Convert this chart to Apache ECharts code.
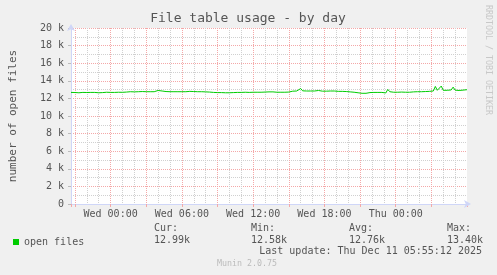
<!DOCTYPE html>
<html><head><meta charset="utf-8">
<script src="https://cdn.jsdelivr.net/npm/echarts@6/dist/echarts.min.js"></script>
<style>html,body{margin:0;padding:0;background:#f0f0f0}#c{width:497px;height:275px}</style>
</head><body><div id="c"></div>
<script>
// ---- data ----
const titleText = 'File table usage - by day';
const yAxisName = 'number of open files';
const seriesName = 'open files';
const dayNames = ['Tue', 'Wed', 'Thu'];   // days covered, hour 0 = Wed 00:00
const startHour = -200 / 60;               // Tue 20:40
const endHour = 30;                        // Thu 06:00
const stepMinutes = 10;
// open files, in thousands, one sample every 10 minutes from Tue 20:40
const openFiles = [
  12.68, 12.68, 12.67, 12.66, 12.64, 12.66,
  12.68, 12.68, 12.67, 12.68, 12.68, 12.69,
  12.68, 12.66, 12.64, 12.72, 12.66, 12.68,
  12.70, 12.70, 12.68, 12.62, 12.68, 12.70,
  12.70, 12.70, 12.69, 12.70, 12.72,
  12.76, 12.76, 12.76, 12.74, 12.78, 12.76,
  12.74, 12.78, 12.76, 12.76, 12.77, 12.76,
  12.76, 12.76, 12.78, 12.90, 13.10, 12.84,
  12.76, 12.78, 12.70, 12.76, 12.74, 12.76,
  12.76, 12.76, 12.75, 12.76, 12.76, 12.76,
  12.78, 12.80, 12.76, 12.78, 12.76, 12.76, 12.74, 12.76,
  12.74, 12.74, 12.72, 12.72, 12.70, 12.68,
  12.66, 12.66, 12.64, 12.66, 12.62, 12.64, 12.66, 12.64, 12.70, 12.66, 12.66, 12.68, 12.66, 12.68,
  12.76, 12.70, 12.70, 12.68, 12.70, 12.70, 12.69, 12.70, 12.70, 12.70, 12.70, 12.72, 12.70, 12.74,
  12.92, 12.74,
  12.70, 12.70, 12.70, 12.70, 12.72, 12.70, 12.70, 12.72, 12.76,
  12.82, 12.82, 12.84, 12.96, 13.12, 12.86, 12.82, 12.84, 12.82,
  12.84, 12.86, 12.84, 12.82, 12.90, 12.84, 12.82, 12.84, 12.82, 12.82, 12.84, 12.82, 12.84, 12.82,
  12.80, 12.80, 12.80, 12.79, 12.78, 12.74, 12.74, 12.72, 12.70,
  12.66, 12.64, 12.60, 12.58, 12.58, 12.58, 12.62, 12.66,
  12.68, 12.68, 12.68, 12.68, 12.66, 12.68, 12.70, 12.62,
  13.02, 12.76,
  12.70, 12.70, 12.70, 12.70, 12.70, 12.72, 12.70, 12.70, 12.70, 12.70, 12.70, 12.74,
  12.76, 12.76, 12.76, 12.76, 12.80, 12.78, 12.76, 12.80, 12.84, 12.84,
  13.36, 12.92, 12.90, 13.40, 12.92,
  12.90, 12.92, 12.90,
  12.96, 13.28, 12.94,
  12.92, 12.90, 12.92, 12.94, 12.96, 12.99
];
const yMax = 20, yStep = 2;
const labelEveryHours = 6, majorGridHours = 3;
const minorGridOffsets = [1, 2];           // hours after each major line
const statHeaders = ['Cur:', 'Min:', 'Avg:', 'Max:'];
const statValues = ['12.99k', '12.58k', '12.76k', '13.40k'];
const lastUpdate = 'Last update: Thu Dec 11 05:55:12 2025';
const footer = 'Munin 2.0.75';
const sideText = 'RRDTOOL / TOBI OETIKER';

// ---- build ----
const pad = n => String(n).padStart(2, '0');
const points = openFiles.map((v, i) => [startHour + i * stepMinutes / 60, v]);
const hourLabel = h => {
  const hh = Math.round(h) + 24;            // hours since Tue 00:00
  return dayNames[Math.floor(hh / 24)] + ' ' + pad(hh % 24) + ':00';
};

const FONT = 'DejaVu Sans Mono';
const AXIS = '#CFD6F8';
const RED = '#f4a8a8';
const GREY = '#d0d0d0';
const TXT = '#555';
const chart = echarts.init(document.getElementById('c'), null, {renderer: 'canvas'});
const statX = [154, 251, 349, 447];
const graphics = [
  {type: 'text', x: 248, y: 19, style: {text: titleText, font: '13px "' + FONT + '"', fill: TXT, align: 'center', verticalAlign: 'middle'}},
  {type: 'text', x: 488, y: 5, rotation: -Math.PI / 2, style: {text: sideText, font: '8.3px "' + FONT + '"', fill: '#c8c8c8', align: 'left', verticalAlign: 'middle'}},
  {type: 'text', x: 482, y: 251, style: {text: lastUpdate, font: '10px "' + FONT + '"', fill: TXT, align: 'right', verticalAlign: 'middle'}},
  {type: 'text', x: 247, y: 264, style: {text: footer, font: '8.3px "' + FONT + '"', fill: '#bbb', align: 'center', verticalAlign: 'middle'}}
];
statHeaders.forEach((h, k) => {
  graphics.push({type: 'text', x: statX[k], y: 228, style: {text: h, font: '10px "' + FONT + '"', fill: TXT, align: 'left', verticalAlign: 'middle'}});
  graphics.push({type: 'text', x: statX[k], y: 240, style: {text: statValues[k], font: '10px "' + FONT + '"', fill: TXT, align: 'left', verticalAlign: 'middle'}});
});

// x axes sharing the plot; "shift" moves the tick phase so ticks land at (multiple of step) + shift hours
const hiddenX = (step, shift, extra) => Object.assign({
  type: 'value', min: startHour - shift, max: endHour - shift, minInterval: step, maxInterval: step,
  splitNumber: Math.round((endHour - startHour) / step), position: 'bottom',
  axisLine: {show: false, onZero: false}, axisTick: {show: false}, axisLabel: {show: false}, splitLine: {show: false}
}, extra);

const xAxes = [
  hiddenX(labelEveryHours, 0, {
    axisLine: {show: true, onZero: false, lineStyle: {color: AXIS, width: 1}, symbol: ['none', 'arrow'], symbolSize: [6, 7], symbolOffset: [0, 4]},
    axisLabel: {show: true, showMinLabel: false, showMaxLabel: false, formatter: hourLabel,
                fontFamily: FONT, fontSize: 10, color: TXT, margin: 5}
  }),
  hiddenX(majorGridHours, 0, {
    axisTick: {show: true, length: 3, lineStyle: {color: RED}},
    splitLine: {show: true, showMinLine: false, showMaxLine: false, lineStyle: {color: RED, type: [1, 1], width: 1}}
  })
];
minorGridOffsets.forEach(off => xAxes.push(hiddenX(majorGridHours, off, {
  splitLine: {show: true, showMinLine: false, showMaxLine: false, lineStyle: {color: GREY, type: [1, 1], width: 1}}
})));

chart.setOption({
  animation: false,
  backgroundColor: '#f0f0f0',
  textStyle: {fontFamily: FONT},
  grid: {left: 67, top: 28, width: 400, height: 176, show: true, backgroundColor: '#fff', borderWidth: 0},
  legend: {
    data: [seriesName], left: 13, top: 237, icon: 'rect', itemWidth: 6, itemHeight: 6, itemGap: 5,
    textStyle: {fontFamily: FONT, fontSize: 10, color: TXT}, padding: 0
  },
  xAxis: xAxes,
  yAxis: {
    type: 'value', min: 0, max: yMax, interval: yStep,
    name: yAxisName, nameLocation: 'middle', nameGap: 52, nameRotate: 90,
    nameTextStyle: {fontFamily: FONT, fontSize: 11, color: TXT},
    axisLine: {show: true, onZero: false, lineStyle: {color: AXIS, width: 1}, symbol: ['none', 'arrow'], symbolSize: [6, 7], symbolOffset: [0, 4]},
    axisTick: {show: true, length: 3, lineStyle: {color: '#bbb'}},
    axisLabel: {formatter: v => v === 0 ? '0' : v + ' k', fontFamily: FONT, fontSize: 10, color: TXT, margin: 7},
    splitLine: {show: true, lineStyle: {color: RED, type: [1, 1], width: 1}},
    minorTick: {show: false, splitNumber: 2},
    minorSplitLine: {show: true, lineStyle: {color: GREY, type: [1, 1], width: 1}}
  },
  series: [{
    name: seriesName, type: 'line', xAxisIndex: 0, data: points, showSymbol: false,
    lineStyle: {color: '#00cc00', width: 1}, itemStyle: {color: '#00cc00'}, z: 5
  }],
  graphic: graphics
});
</script></body></html>
